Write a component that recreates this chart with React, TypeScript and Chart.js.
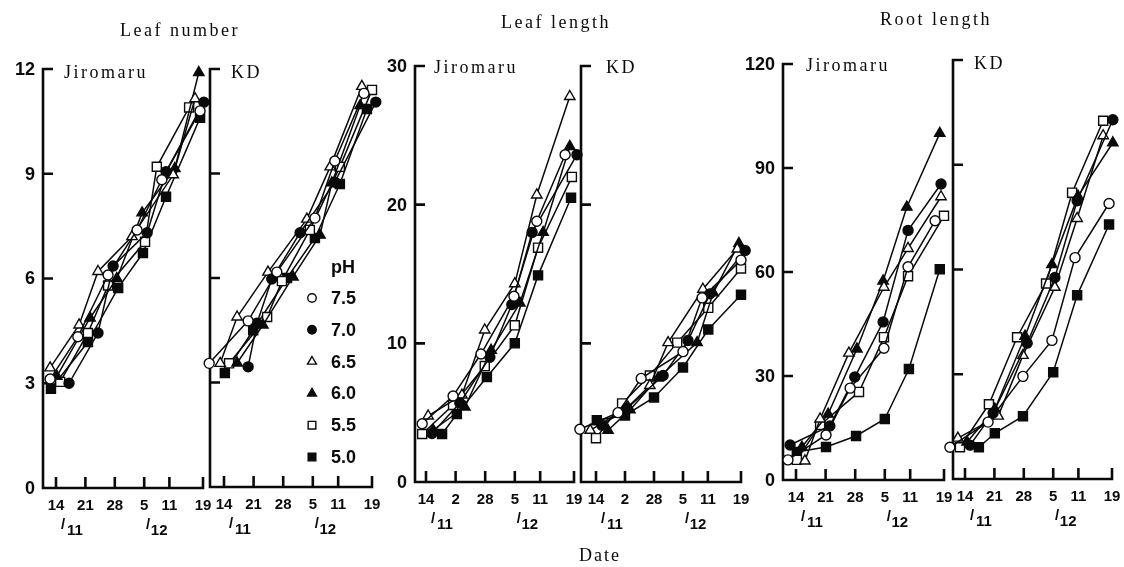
import React, { useEffect, useRef } from 'react';
import { Chart, registerables } from 'chart.js';

Chart.register(...registerables);

// ---------- data ----------
const phLevels = ['7.5', '7.0', '6.5', '6.0', '5.5', '5.0'];
// days after 14/11
const dateTicks = [0, 7, 14, 21, 27, 35];
const dateLabelsA = ['14', '21', '28', '5', '11', '19'];
const dateLabelsB = ['14', '2', '28', '5', '11', '19'];
const monthLabels = ['11', '12'];

const leafNumTicks = [0, 3, 6, 9, 12];
const leafLenTicks = [0, 10, 20, 30];
const rootLenTicks = [0, 30, 60, 90, 120];

// Leaf number – Jiromaru
const leafNumJiroX = [
  [-1.4, 5.2, 12.4, 19.3, 25.2, 34.3],
  [3.1, 10.0, 13.6, 21.7, 26.2, 35.2],
  [-1.4, 5.5, 10.0, 18.1, 27.9, 33.1],
  [0.2, 8.1, 14.5, 20.5, 28.3, 34.0],
  [1.0, 7.6, 12.4, 21.2, 24.0, 31.7],
  [-1.2, 7.6, 14.8, 20.7, 26.2, 34.3],
];
const leafNumJiroY = [
  [3.12, 4.33, 6.1, 7.39, 8.83, 10.8],
  [3.0, 4.44, 6.36, 7.31, 9.06, 11.05],
  [3.44, 4.67, 6.2, 7.2, 8.97, 11.15],
  [3.2, 4.87, 6.0, 7.88, 9.15, 11.9],
  [3.04, 4.44, 5.8, 7.05, 9.2, 10.9],
  [2.84, 4.18, 5.73, 6.73, 8.34, 10.6],
];
// Leaf number – KD
const leafNumKdX = [
  [-3.5, 5.7, 12.5, 21.5, 26.2, 33.1],
  [5.7, 7.8, 11.3, 18.0, 26.2, 35.9],
  [-0.9, 3.1, 10.4, 19.6, 25.1, 32.6],
  [3.1, 9.2, 16.3, 22.7, 25.5, 32.2],
  [1.2, 10.2, 13.7, 20.3, 27.4, 35.0],
  [0.2, 6.9, 14.9, 21.5, 27.4, 33.8],
];
const leafNumKdY = [
  [3.55, 4.77, 6.17, 7.72, 9.36, 11.3],
  [3.45, 4.7, 5.97, 7.3, 8.75, 11.05],
  [3.55, 4.88, 6.17, 7.69, 9.19, 11.5],
  [3.56, 4.65, 6.03, 7.23, 8.73, 10.95],
  [3.55, 4.88, 5.91, 7.38, 9.19, 11.4],
  [3.27, 4.5, 6.0, 7.15, 8.7, 10.85],
];
// Leaf length – Jiromaru
const leafLenJiroX = [
  [-0.9, 6.4, 13.0, 20.8, 26.2, 32.9],
  [1.4, 8.0, 15.1, 20.3, 25.1, 35.7],
  [0.5, 8.5, 13.9, 21.0, 26.2, 34.0],
  [1.7, 9.2, 15.4, 22.2, 27.7, 34.0],
  [-0.9, 6.4, 13.9, 21.0, 26.5, 34.5],
  [3.8, 7.3, 14.4, 21.0, 26.5, 34.3],
];
const leafLenJiroY = [
  [4.2, 6.2, 9.23, 13.4, 18.8, 23.6],
  [3.5, 5.7, 9.0, 12.8, 18.0, 23.6],
  [4.76, 6.27, 10.96, 14.3, 20.7, 27.8],
  [3.75, 5.4, 9.5, 12.9, 18.0, 24.2],
  [3.46, 5.55, 8.36, 11.3, 16.9, 22.0],
  [3.46, 4.9, 7.57, 10.0, 14.9, 20.5],
];
// Leaf length – KD
const leafLenKdX = [
  [-3.9, 5.3, 10.9, 21.0, 25.6, 35.0],
  [1.4, 7.5, 16.2, 22.2, 27.5, 36.0],
  [-1.4, 7.7, 13.0, 17.4, 25.8, 34.1],
  [2.9, 8.2, 15.0, 24.4, 28.3, 34.5],
  [0.0, 6.3, 13.0, 19.6, 27.1, 35.0],
  [0.2, 7.0, 14.0, 21.0, 27.1, 35.0],
];
const leafLenKdY = [
  [3.8, 5.0, 7.47, 9.4, 13.28, 16.0],
  [4.1, 5.3, 7.68, 10.2, 13.57, 16.7],
  [3.73, 5.4, 6.96, 10.05, 13.9, 16.8],
  [3.73, 5.2, 7.5, 10.05, 13.64, 17.2],
  [3.16, 5.67, 7.68, 10.05, 12.56, 15.4],
  [4.45, 4.8, 6.1, 8.26, 11.0, 13.5],
];
// Root length – Jiromaru
const rootLenJiroX = [
  [-1.9, 7.1, 12.8, 20.8, 26.5, 32.9],
  [-1.4, 8.0, 13.9, 20.6, 26.5, 34.3],
  [2.1, 5.7, 12.5, 20.8, 26.5, 34.3],
  [1.4, 7.6, 14.4, 20.6, 26.2, 34.0],
  [0.2, 5.7, 14.9, 20.8, 26.5, 35.0],
  [0.2, 7.1, 14.2, 21.0, 26.7, 34.0],
];
const rootLenJiroY = [
  [5.8, 13, 26.5, 38, 61.5, 74.8],
  [10.1, 15.6, 29.7, 45.6, 72, 85.4],
  [5.5, 17.6, 36.6, 55.6, 66.8, 81.7],
  [9.5, 19, 37.8, 57.4, 78.7, 100],
  [5.8, 15.9, 25.4, 41.2, 58.8, 76.2],
  [8.1, 9.5, 12.7, 17.6, 32, 60.8],
];
// Root length – KD
const rootLenKdX = [
  [-3.6, 5.5, 13.8, 20.7, 26.2, 34.3],
  [1.2, 6.7, 14.8, 21.4, 26.7, 35.2],
  [-1.7, 7.9, 13.8, 21.4, 26.7, 32.9],
  [0.5, 7.1, 14.3, 20.7, 26.9, 35.2],
  [-1.2, 5.7, 12.4, 19.3, 25.5, 32.9],
  [3.3, 7.1, 13.8, 21.0, 26.7, 34.3],
];
const rootLenKdY = [
  [9.1, 16.3, 29.4, 39.7, 63.4, 78.9],
  [9.7, 18.9, 38.9, 57.7, 79.7, 102.9],
  [11.7, 18, 35.4, 54.9, 74.6, 98.3],
  [10.6, 20, 40.9, 61.4, 81, 96.3],
  [9.1, 21.4, 40.6, 56, 82, 102.6],
  [9.1, 13.1, 18, 30.6, 52.6, 72.9],
];

// ---------- styles / layout ----------
const W = 1124;
const H = 567;
const INK = '#0a0a0a';
const markerStyle = ['circle', 'circle', 'triangle', 'triangle', 'rect', 'rect'];
const markerFilled = [false, true, false, true, false, true];
const markerRadius = [5, 5, 6, 6, 6.4, 6.4];
const NUM_FONT = 'bold 18px "Liberation Sans", Arial, sans-serif';
const DATE_FONT = 'bold 15px "Liberation Sans", Arial, sans-serif';
const SERIF = '"Liberation Serif", "DejaVu Serif", serif';

type PanelCfg = {
  xs: number[][];
  ys: number[][];
  yMax: number;
  yTicks: number[];
  showYLabels: boolean;
  dateLabels: string[];
  axisX: number;
  d0: number;
  d35: number;
  y0: number;
  yTop: number;
  legend?: boolean;
};

const panels: PanelCfg[] = [
  { xs: leafNumJiroX, ys: leafNumJiroY, yMax: 12, yTicks: leafNumTicks, showYLabels: true, dateLabels: dateLabelsA, axisX: 43, d0: 56, d35: 203, y0: 488, yTop: 69 },
  { xs: leafNumKdX, ys: leafNumKdY, yMax: 12, yTicks: leafNumTicks, showYLabels: false, dateLabels: dateLabelsA, axisX: 210, d0: 224, d35: 372, y0: 487, yTop: 69, legend: true },
  { xs: leafLenJiroX, ys: leafLenJiroY, yMax: 30, yTicks: leafLenTicks, showYLabels: true, dateLabels: dateLabelsB, axisX: 415, d0: 426, d35: 574, y0: 482, yTop: 66 },
  { xs: leafLenKdX, ys: leafLenKdY, yMax: 30, yTicks: leafLenTicks, showYLabels: false, dateLabels: dateLabelsB, axisX: 581, d0: 596, d35: 741, y0: 482, yTop: 66 },
  { xs: rootLenJiroX, ys: rootLenJiroY, yMax: 120, yTicks: rootLenTicks, showYLabels: true, dateLabels: dateLabelsA, axisX: 783, d0: 796, d35: 944, y0: 480, yTop: 64 },
  { xs: rootLenKdX, ys: rootLenKdY, yMax: 120, yTicks: rootLenTicks, showYLabels: false, dateLabels: dateLabelsA, axisX: 953, d0: 965, d35: 1112, y0: 479, yTop: 60 },
];

function drawMarker(ctx: CanvasRenderingContext2D, i: number, x: number, y: number, scale: number) {
  const r = markerRadius[i] * scale;
  ctx.beginPath();
  if (markerStyle[i] === 'circle') {
    ctx.arc(x, y, r, 0, Math.PI * 2);
  } else if (markerStyle[i] === 'triangle') {
    ctx.moveTo(x, y - r);
    ctx.lineTo(x + r * Math.sin((2 * Math.PI) / 3), y - r * Math.cos((2 * Math.PI) / 3));
    ctx.lineTo(x + r * Math.sin((4 * Math.PI) / 3), y - r * Math.cos((4 * Math.PI) / 3));
    ctx.closePath();
  } else {
    const s = r * Math.SQRT1_2;
    ctx.rect(x - s, y - s, 2 * s, 2 * s);
  }
  ctx.fillStyle = markerFilled[i] ? INK : '#fff';
  ctx.fill();
  ctx.lineWidth = 1.4;
  ctx.strokeStyle = INK;
  ctx.stroke();
}

const panelPlugin = {
  id: 'panelAxes',
  beforeDatasetsDraw(chart: any, _args: any, opts: any) {
    const p: PanelCfg = opts.panel;
    if (!p) return;
    const { ctx } = chart;
    const xs = chart.scales.x;
    const ys = chart.scales.y;
    const xl = xs.getPixelForValue(xs.min);
    const xr = xs.getPixelForValue(35);
    const yb = ys.getPixelForValue(0);
    const yt = ys.getPixelForValue(p.yMax);
    ctx.save();
    ctx.strokeStyle = INK;
    ctx.lineWidth = 2.6;
    ctx.lineJoin = 'miter';
    ctx.beginPath();
    ctx.moveTo(xl + 10, yt);
    ctx.lineTo(xl, yt);
    ctx.lineTo(xl, yb);
    ctx.lineTo(xr, yb);
    ctx.lineTo(xr, yb - 11);
    p.yTicks.forEach((v) => {
      if (v === 0 || v === p.yMax) return;
      const py = ys.getPixelForValue(v);
      ctx.moveTo(xl, py);
      ctx.lineTo(xl + 10, py);
    });
    dateTicks.forEach((d) => {
      if (d === 35) return;
      const px = xs.getPixelForValue(d);
      ctx.moveTo(px, yb);
      ctx.lineTo(px, yb - 11);
    });
    ctx.stroke();

    ctx.fillStyle = INK;
    if (p.showYLabels) {
      ctx.font = NUM_FONT;
      ctx.textAlign = 'right';
      ctx.textBaseline = 'middle';
      p.yTicks.forEach((v) => {
        ctx.fillText(String(v), xl - 8, ys.getPixelForValue(v) + 1);
      });
    }
    ctx.font = DATE_FONT;
    ctx.textAlign = 'center';
    ctx.textBaseline = 'middle';
    dateTicks.forEach((d, k) => {
      ctx.fillText(p.dateLabels[k], xs.getPixelForValue(d), yb + 18);
    });
    // month markers "/11" under 14 and "/12" under 5
    const months = [
      { d: 0, label: monthLabels[0], slash: 7, num: 19 },
      { d: 21, label: monthLabels[1], slash: 4, num: 15 },
    ];
    months.forEach((m) => {
      const px = xs.getPixelForValue(m.d);
      ctx.textAlign = 'center';
      ctx.fillText('/', px + m.slash, yb + 37);
      ctx.fillText(m.label, px + m.num, yb + 43);
    });
    ctx.restore();
  },
  afterDatasetsDraw(chart: any, _args: any, opts: any) {
    const p: PanelCfg = opts.panel;
    if (!p || !p.legend) return;
    const { ctx } = chart;
    ctx.save();
    ctx.fillStyle = INK;
    ctx.font = NUM_FONT;
    ctx.textAlign = 'left';
    ctx.textBaseline = 'middle';
    ctx.fillText('pH', 331, 268);
    phLevels.forEach((lab, i) => {
      const y = 298 + i * 31.8;
      drawMarker(ctx, i, 312, y, 0.85);
      ctx.fillStyle = INK;
      ctx.fillText(lab, 331, y + 1);
    });
    ctx.restore();
  },
};

function Panel({ cfg }: { cfg: PanelCfg }) {
  const ref = useRef<HTMLCanvasElement | null>(null);
  useEffect(() => {
    if (!ref.current) return;
    const ppd = (cfg.d35 - cfg.d0) / 35;
    const xMin = -(cfg.d0 - cfg.axisX) / ppd;
    const datasets = phLevels.map((ph, i) => ({
      label: 'pH ' + ph,
      data: cfg.xs[i].map((x, k) => ({ x, y: cfg.ys[i][k] })),
      borderColor: INK,
      borderWidth: 1.5,
      tension: 0,
      pointStyle: markerStyle[i],
      pointRadius: markerRadius[i],
      pointBorderWidth: 1.4,
      pointBorderColor: INK,
      pointBackgroundColor: markerFilled[i] ? INK : '#ffffff',
      clip: false as any,
    }));
    const chart = new Chart(ref.current, {
      type: 'line',
      data: { datasets },
      options: {
        responsive: false,
        animation: false,
        events: [],
        layout: {
          padding: { left: cfg.axisX, right: W - cfg.d35, top: cfg.yTop, bottom: H - cfg.y0 },
        },
        scales: {
          x: { type: 'linear', display: false, min: xMin, max: 35 },
          y: { type: 'linear', display: false, min: 0, max: cfg.yMax },
        },
        plugins: {
          legend: { display: false },
          tooltip: { enabled: false },
          title: { display: false },
          panelAxes: { panel: cfg },
        } as any,
      },
      plugins: [panelPlugin as any],
    });
    return () => chart.destroy();
  }, [cfg]);
  return (
    <canvas
      ref={ref}
      width={W}
      height={H}
      style={{ position: 'absolute', left: 0, top: 0, width: W, height: H }}
    />
  );
}

const serifText = (text: string, left: number, top: number, center: boolean, size = 18, spacing = 2.5) => (
  <div
    key={text + left}
    style={{
      position: 'absolute',
      left,
      top,
      transform: center ? 'translate(-50%, -50%)' : 'translateY(-50%)',
      fontFamily: SERIF,
      fontSize: size,
      letterSpacing: spacing,
      lineHeight: 1,
      whiteSpace: 'nowrap',
      color: INK,
    }}
  >
    {text}
  </div>
);

export default function App() {
  return (
    <div style={{ position: 'fixed', left: 0, top: 0, width: W, height: H, background: '#fff', overflow: 'hidden' }}>
      {panels.map((p, i) => (
        <Panel key={i} cfg={p} />
      ))}
      {serifText('Leaf number', 180, 30, true)}
      {serifText('Leaf length', 556, 22, true)}
      {serifText('Root length', 936, 19, true)}
      {serifText('Jiromaru', 64, 72, false)}
      {serifText('KD', 231, 72, false)}
      {serifText('Jiromaru', 434, 67, false)}
      {serifText('KD', 606, 67, false)}
      {serifText('Jiromaru', 806, 65, false)}
      {serifText('KD', 974, 63, false)}
      {serifText('Date', 600, 555, true, 18, 2)}
    </div>
  );
}
